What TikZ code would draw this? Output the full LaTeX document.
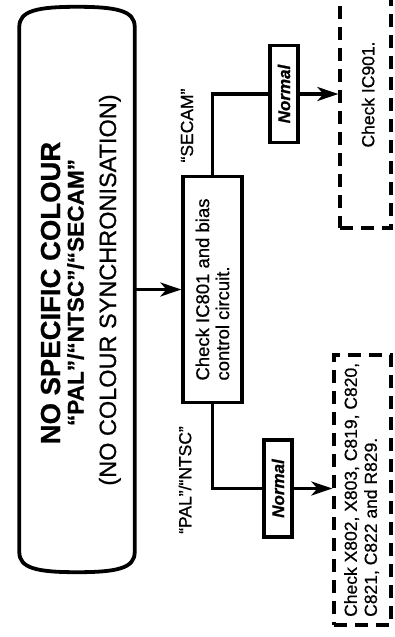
\documentclass[tikz,border=0pt]{standalone}
\usepackage{fontspec}
\setmainfont{Liberation Sans}[FakeBold=0.7]
\usetikzlibrary{arrows.meta,calc}
\begin{document}
\begin{tikzpicture}[x=1pt,y=-1pt,
  frame/.style={line width=3.8pt},
  box/.style={draw, line width=3.3pt, rotate=90, inner sep=0pt},
  dbox/.style={draw, line width=3.3pt, dash pattern=on 13pt off 8pt, inner sep=0pt},
  conn/.style={line width=3.1pt},
  arr/.style={line width=3.1pt, -{Stealth[length=21pt,width=14pt,inset=6pt]}},
  lbl/.style={rotate=90, font=\fontsize{17.5}{20}\selectfont, inner sep=0pt},
  titletext/.style={rotate=90, anchor=base, inner sep=0pt}]
\useasboundingbox (0,0) rectangle (395,637);
\fill[white] (0,0) rectangle (395,637);

% start capsule
\node[minimum width=115pt, minimum height=565pt, inner sep=0pt] (start) at (77,289.5) {};
\draw[frame] ($(start.north west)+(0,20)$)
   .. controls ($(start.north west)+(0,4)$) and ($(start.north)+(-40,0)$) .. (start.north)
   .. controls ($(start.north)+(40,0)$) and ($(start.north east)+(0,4)$) .. ($(start.north east)+(0,20)$)
   -- ($(start.south east)+(0,-20)$)
   .. controls ($(start.south east)+(0,-4)$) and ($(start.south)+(40,0)$) .. (start.south)
   .. controls ($(start.south)+(-40,0)$) and ($(start.south west)+(0,-4)$) .. ($(start.south west)+(0,-20)$)
   -- cycle;
\node[titletext, font=\fontsize{27.5}{30}\selectfont\bfseries] (t1) at (60,293) {NO SPECIFIC COLOUR};
\node[titletext, font=\fontsize{22.6}{26}\selectfont\bfseries] (t2) at (83.5,292.5) {“PAL”/“NTSC”/“SECAM”};
\node[titletext, font=\fontsize{23.5}{26}\selectfont] (t3) at (116,290) {(NO COLOUR SYNCHRONISATION)};

% middle box
\node[box, minimum width=226pt, minimum height=59pt, align=left,
      font=\fontsize{18.5}{20}\selectfont] (mid) at (212.5,289.5)
      {Check IC801 and bias\\control circuit.};
\draw[arr] (start.east) -- (mid.north);

% labels
\node[lbl] (secam) at (187,125.5) {“SECAM”};
\node[lbl] (palntsc) at (185,480) {“PAL”/“NTSC”};

% Normal boxes
\node[box, minimum width=97pt, minimum height=28pt,
      font=\fontsize{17}{20}\selectfont\bfseries\itshape] (n1) at (284,94) {Normal};
\node[box, minimum width=97pt, minimum height=28pt,
      font=\fontsize{17}{20}\selectfont\bfseries\itshape] (n2) at (278,488.5) {Normal};
\draw[conn] (mid.east) |- (n1.north);
\draw[conn] (mid.west) |- (n2.north);

% dashed result boxes
\node[dbox, minimum width=51pt, minimum height=270pt] (d1) at (365.5,93) {};
\node[lbl] (c1) at (368,94.5) {Check IC901.};
\draw[arr] (n1.south) -- (n1.south -| d1.west);

\node[dbox, minimum width=57pt, minimum height=270pt] (d2) at (362.5,490) {};
\node[lbl, align=left, anchor=north west] (c2) at (344,617)
      {Check X802, X803, C819, C820,\\C821, C822 and R829.};
\draw[arr] (n2.south) -- (n2.south -| d2.west);
\end{tikzpicture}
\end{document}
